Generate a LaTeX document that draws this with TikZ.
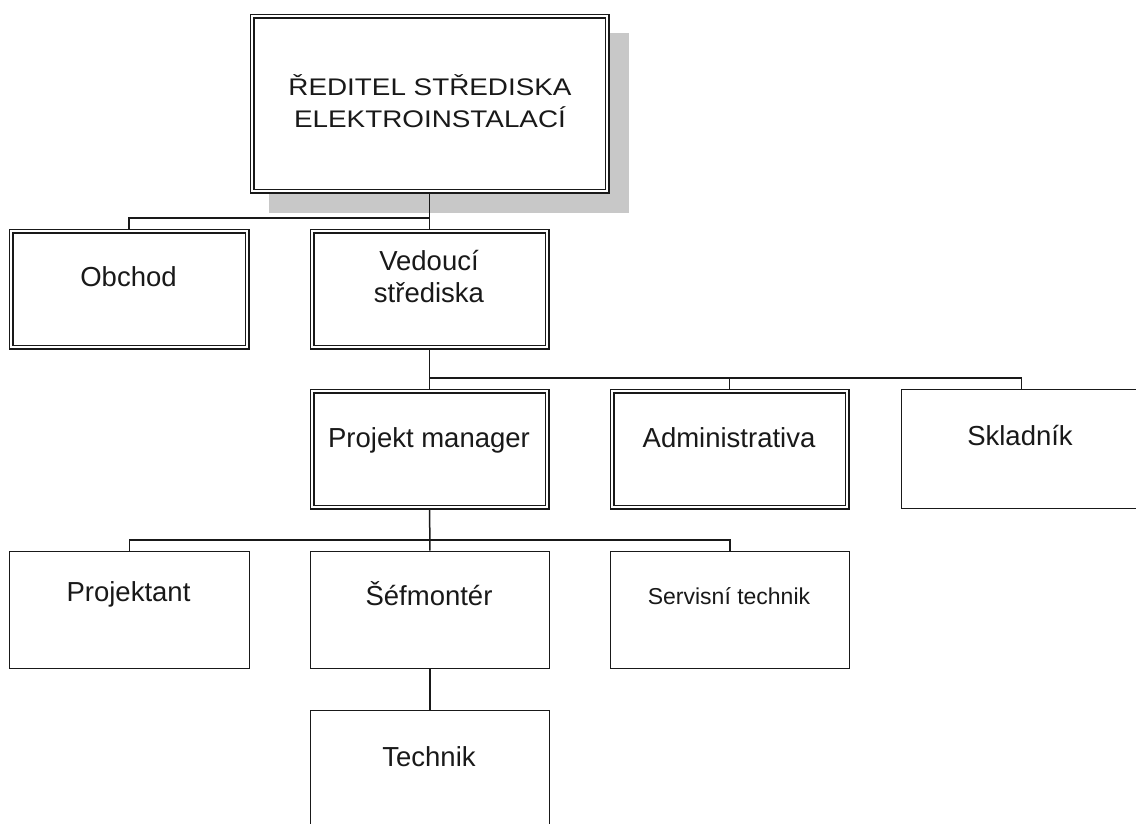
\documentclass[tikz,border=0pt]{standalone}
\usepackage{fontspec}
\setmainfont{Liberation Sans}
\newfontfamily\widefont{Liberation Sans}[FakeStretch=1.16]
\usetikzlibrary{backgrounds}
\definecolor{shadowgray}{RGB}{200,200,200}
\definecolor{ink}{RGB}{25,25,25}
\begin{document}
\begin{tikzpicture}[x=1pt,y=-1pt,
  dbox/.style={draw=ink, fill=white, double=white, double distance=2pt, line width=1.4pt,
    inner sep=0pt, anchor=north west},
  sbox/.style={draw=ink, fill=white, line width=1.6pt, inner sep=0pt, anchor=north west},
  conn/.style={draw=ink, line width=1.5pt},
  lbl/.style={anchor=base, inner sep=0pt, align=center, text=ink, font=\fontsize{27.5}{32}\selectfont},
  small/.style={lbl, font=\fontsize{23}{28}\selectfont},
  toplbl/.style={lbl, font=\widefont\fontsize{24}{32}\selectfont}]
\useasboundingbox (0,0) rectangle (1136,823);

% boxes
\node[dbox, minimum width=355pt, minimum height=175pt] (top) at (251.5,15.5) {};
\node[dbox, minimum width=236pt, minimum height=116pt] (obchod) at (10.5,230.5) {};
\node[dbox, minimum width=235pt, minimum height=116pt] (vedouci) at (311.5,230.5) {};
\node[dbox, minimum width=235pt, minimum height=116pt] (pm) at (311.5,390.5) {};
\node[dbox, minimum width=235pt, minimum height=116pt] (admin) at (611.5,390.5) {};
\node[sbox, minimum width=240pt, minimum height=119pt] (sklad) at (900.5,388.5) {};
\node[sbox, minimum width=240pt, minimum height=117pt] (projektant) at (8.5,550.5) {};
\node[sbox, minimum width=239pt, minimum height=117pt] (sefm) at (309.5,550.5) {};
\node[sbox, minimum width=239pt, minimum height=117pt] (servis) at (609.5,550.5) {};
\node[sbox, minimum width=239pt, minimum height=130pt] (technik) at (309.5,709.5) {};

% texts (base anchor = baseline of the last line)
\node[toplbl] (top-t) at (430,127) {ŘEDITEL STŘEDISKA\\ELEKTROINSTALACÍ};
\node[lbl] (obchod-t) at (128.5,286) {Obchod};
\node[lbl] (vedouci-t) at (429,302) {Vedoucí\\střediska};
\node[lbl] (pm-t) at (429,447) {Projekt manager};
\node[lbl] (admin-t) at (729,447) {Administrativa};
\node[lbl] (sklad-t) at (1020,445) {Skladník};
\node[lbl] (projektant-t) at (128.5,601) {Projektant};
\node[lbl] (sefm-t) at (429,605) {Šéfmontér};
\node[small] (servis-t) at (729,604) {Servisní technik};
\node[lbl] (technik-t) at (429,766) {Technik};

% junctions
\coordinate (j1) at (429,218);
\coordinate (j2) at (429,378);
\coordinate (j3) at (429,540);

\begin{scope}[on background layer]
  \fill[shadowgray] (269,33) rectangle (629,213);
  \draw[conn] (top.south) -- (vedouci.north);
  \draw[conn] (j1) -| (obchod.north);
  \draw[conn] (vedouci.south) -- (pm.north);
  \draw[conn] (j2) -| (admin.north);
  \draw[conn] (j2) -| (sklad.north);
  \draw[conn] (pm.south) -- (sefm.north);
  \draw[conn] (j3) -| (projektant.north);
  \draw[conn] (j3) -| (servis.north);
  \draw[conn] (sefm.south) -- (technik.north);
\end{scope}
\end{tikzpicture}
\end{document}
